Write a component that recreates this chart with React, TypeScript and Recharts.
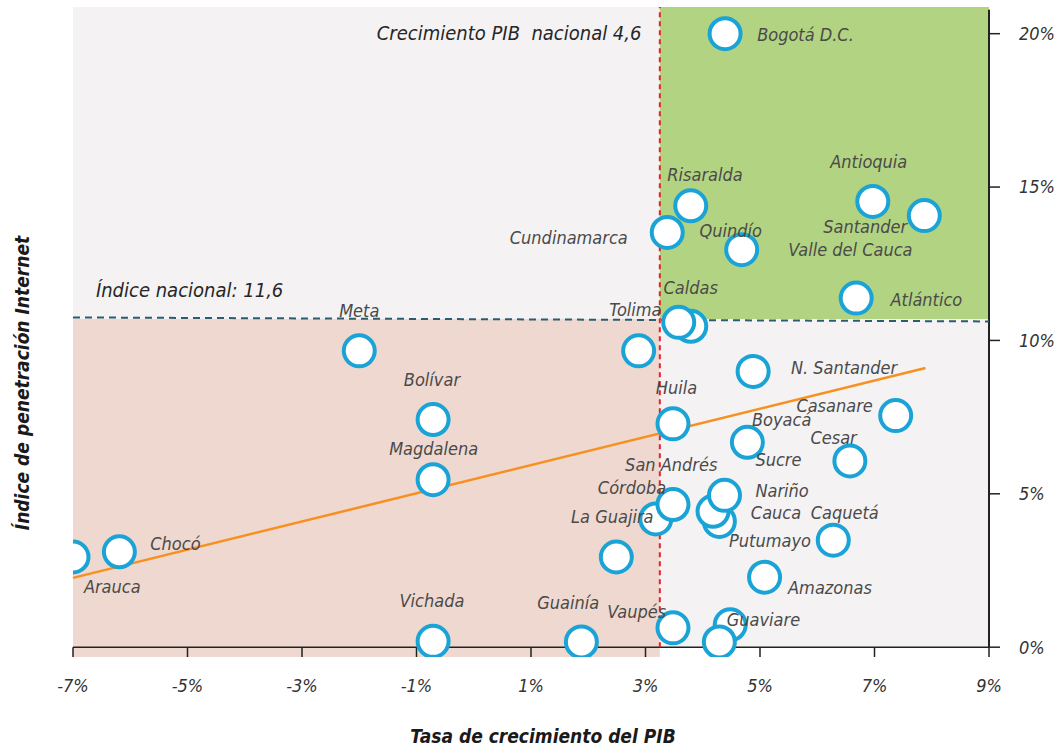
import React from 'react';
import { ScatterChart, Scatter, XAxis, YAxis, ReferenceArea, ReferenceLine } from 'recharts';

// Departments: GDP growth (%) vs internet penetration index (%)
const provinces = [
  'Bogotá D.C.', 'Risaralda', 'Cundinamarca', 'Quindío', 'Antioquia', 'Santander',
  'Valle del Cauca', 'Caldas', 'Atlántico', 'Tolima', 'Meta', 'N. Santander',
  'Bolívar', 'Huila', 'Casanare', 'Boyacá', 'Cesar', 'Magdalena',
  'Putumayo', 'Cauca', 'Nariño', 'Córdoba', 'San Andrés', 'Caquetá',
  'La Guajira', 'Chocó', 'Arauca', 'Amazonas', 'Vichada', 'Guainía',
  'Vaupés', 'Guaviare', 'Sucre',
];
const gdpGrowth = [
  4.39, 3.79, 3.38, 4.68, 6.97, 7.87,
  3.79, 3.58, 6.68, 2.88, -2.0, 4.88,
  -0.71, 3.48, 7.37, 4.78, 6.57, -0.71,
  4.29, 4.18, 4.38, 3.18, 3.48, 6.28,
  2.49, -6.19, -7.0, 5.08, -0.71, 1.88,
  3.48, 4.48, 4.29,
];
const internetIndex = [
  20.0, 14.39, 13.52, 12.96, 14.53, 14.07,
  10.46, 10.59, 11.38, 9.66, 9.66, 8.99,
  7.42, 7.28, 7.55, 6.68, 6.07, 5.46,
  4.1, 4.43, 4.95, 4.18, 4.65, 3.49,
  2.94, 3.11, 2.94, 2.28, 0.19, 0.17,
  0.63, 0.73, 0.17,
];

// where each name is written (data units) and how it is anchored
const labelX = [
  4.95, 4.04, 2.69, 4.49, 6.9, 7.57,
  6.58, 3.79, 7.28, 3.28, -2.0, 5.54,
  -0.73, 3.54, 6.97, 4.86, 6.69, -0.7,
  4.46, 4.84, 4.92, 3.36, 3.45, 6.48,
  3.14, -5.65, -6.81, 5.49, -0.73, 1.65,
  3.36, 4.42, 4.92,
];
const labelY = [
  19.97, 15.4, 13.37, 13.59, 15.82, 13.72,
  12.96, 11.74, 11.33, 11.0, 10.97, 9.12,
  8.72, 8.45, 7.87, 7.42, 6.82, 6.47,
  3.48, 4.39, 5.11, 5.21, 5.95, 4.39,
  4.26, 3.37, 1.98, 1.95, 1.52, 1.44,
  1.17, 0.9, 6.11,
];
const labelAnchor = [
  'start', 'middle', 'end', 'middle', 'middle', 'end',
  'middle', 'middle', 'start', 'end', 'middle', 'start',
  'middle', 'middle', 'end', 'start', 'end', 'middle',
  'start', 'start', 'start', 'end', 'middle', 'middle',
  'end', 'start', 'start', 'start', 'middle', 'middle',
  'end', 'start', 'start',
];

const xTicks = [-7, -5, -3, -1, 1, 3, 5, 7, 9];
const yTicks = [0, 5, 10, 15, 20];

const nationalGdpLine = 3.25;
const nationalIndexLine = [10.75, 10.62];
const trendX = [-7, 7.89];
const trendY = [2.26, 9.1];

const X_MIN = -7;
const X_MAX = 9;
const Y_MIN = -0.32;
const Y_MAX = 20.87;
const SPLIT_Y = 10.7;

const FONT = "'Liberation Sans Narrow', 'DejaVu Sans Condensed', 'Liberation Sans', sans-serif";

const points = provinces.map((name, i) => ({ name, x: gdpGrowth[i], y: internetIndex[i] }));
const labels = provinces.map((name, i) => ({ name, x: labelX[i], y: labelY[i], anchor: labelAnchor[i] }));
const notes = [
  { name: 'Crecimiento PIB\u00a0\u00a0nacional 4,6', x: 2.93, y: 20.02, anchor: 'end' },
  { name: 'Índice nacional: 11,6', x: -6.6, y: 11.65, anchor: 'start' },
];

const Dot = (props: any) => (
  <circle cx={props.cx} cy={props.cy} r={15.5} fill="#ffffff" stroke="#1aa3d6" strokeWidth={4} />
);

const Label = (props: any) => (
  <text
    x={props.cx}
    y={props.cy}
    dy="0.36em"
    textAnchor={props.payload.anchor}
    fontFamily={FONT}
    fontStyle="italic"
    fontSize={18}
    fill="#4a4a4a"
  >
    {props.payload.name}
  </text>
);

const Note = (props: any) => (
  <text
    x={props.cx}
    y={props.cy}
    dy="0.36em"
    textAnchor={props.payload.anchor}
    fontFamily={FONT}
    fontStyle="italic"
    fontSize={20}
    fill="#262626"
  >
    {props.payload.name}
  </text>
);

export default function App() {
  return (
    <div style={{ position: 'absolute', left: 0, top: 0, width: 1060, height: 749, background: '#fff' }}>
      <ScatterChart width={1060} height={749} margin={{ top: 7, right: 0, bottom: 0, left: 73 }}>
        <ReferenceArea x1={X_MIN} x2={nationalGdpLine} y1={SPLIT_Y} y2={Y_MAX} fill="#f4f2f3" fillOpacity={1} />
        <ReferenceArea x1={nationalGdpLine} x2={X_MAX} y1={SPLIT_Y} y2={Y_MAX} fill="#b2d381" fillOpacity={1} />
        <ReferenceArea x1={X_MIN} x2={nationalGdpLine} y1={Y_MIN} y2={SPLIT_Y} fill="#efd8cf" fillOpacity={1} />
        <ReferenceArea x1={nationalGdpLine} x2={X_MAX} y1={0} y2={SPLIT_Y} fill="#f4f2f3" fillOpacity={1} />

        <XAxis
          type="number"
          dataKey="x"
          domain={[X_MIN, X_MAX]}
          ticks={xTicks}
          tickFormatter={(v: number) => `${v}%`}
          axisLine={false}
          tickLine={false}
          tickSize={0}
          tickMargin={22}
          height={92}
          tick={{ fontFamily: FONT, fontStyle: 'italic', fontSize: 18, fill: '#333' }}
          allowDataOverflow
        />
        <YAxis
          type="number"
          dataKey="y"
          orientation="right"
          domain={[Y_MIN, Y_MAX]}
          ticks={yTicks}
          tickFormatter={(v: number) => `${v}%`}
          axisLine={false}
          tickLine={{ stroke: '#222', strokeWidth: 1.5 }}
          tickSize={11}
          tickMargin={19}
          width={71}
          tick={{ fontFamily: FONT, fontStyle: 'italic', fontSize: 18, fill: '#333', textAnchor: 'start' }}
          allowDataOverflow
        />

        <ReferenceLine segment={[{ x: X_MIN, y: 0 }, { x: X_MAX, y: 0 }]} stroke="#222" strokeWidth={1.5} />
        <ReferenceLine segment={[{ x: X_MAX, y: 0 }, { x: X_MAX, y: 20.78 }]} stroke="#222" strokeWidth={2} />
        {xTicks.map((t) => (
          <ReferenceLine key={t} segment={[{ x: t, y: 0 }, { x: t, y: Y_MIN }]} stroke="#222" strokeWidth={1.5} />
        ))}

        <ReferenceLine
          segment={[{ x: X_MIN, y: nationalIndexLine[0] }, { x: X_MAX, y: nationalIndexLine[1] }]}
          stroke="#2b5c70"
          strokeWidth={2}
          strokeDasharray="7 5"
        />
        <ReferenceLine
          segment={[{ x: nationalGdpLine, y: 0 }, { x: nationalGdpLine, y: Y_MAX }]}
          stroke="#e8202a"
          strokeWidth={2}
          strokeDasharray="5 4"
        />
        <ReferenceLine
          segment={[{ x: trendX[0], y: trendY[0] }, { x: trendX[1], y: trendY[1] }]}
          stroke="#f7901e"
          strokeWidth={2.5}
        />

        <Scatter data={points} shape={Dot} isAnimationActive={false} />
        <Scatter data={labels} shape={Label} isAnimationActive={false} />
        <Scatter data={notes} shape={Note} isAnimationActive={false} />

        <text
          x={543}
          y={736}
          textAnchor="middle"
          dy="0.36em"
          fontFamily={FONT}
          fontStyle="italic"
          fontWeight="bold"
          fontSize={19}
          fill="#1a1a1a"
        >
          Tasa de crecimiento del PIB
        </text>
        <text
          x={22}
          y={383}
          textAnchor="middle"
          dy="0.36em"
          transform="rotate(-90 22 383)"
          fontFamily={FONT}
          fontStyle="italic"
          fontWeight="bold"
          fontSize={19}
          fill="#1a1a1a"
        >
          Índice de penetración Internet
        </text>
      </ScatterChart>
    </div>
  );
}
